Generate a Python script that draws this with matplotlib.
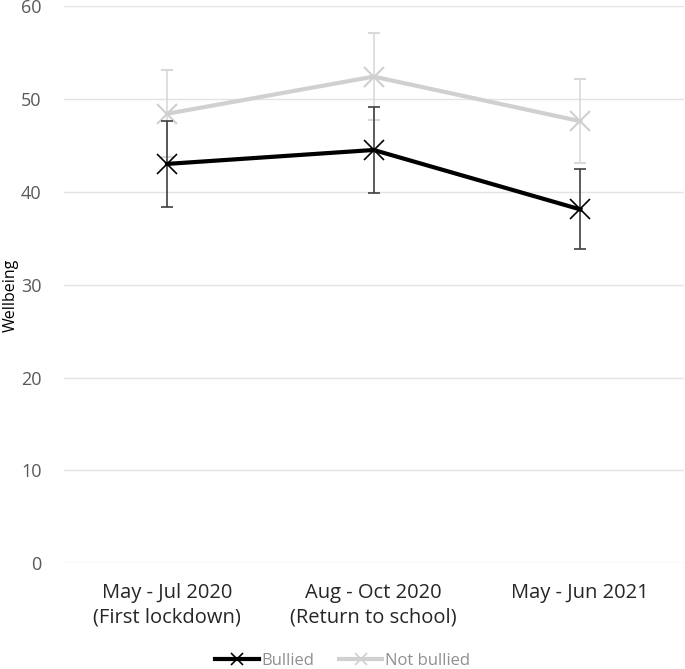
import matplotlib.pyplot as plt
from matplotlib.lines import Line2D

# data
periods = ["May - Jul 2020\n(First lockdown)", "Aug - Oct 2020\n(Return to school)", "May - Jun 2021"]
bullied = [43.0, 44.5, 38.1]
bullied_err = [4.6, 4.6, 4.3]
not_bullied = [48.4, 52.4, 47.6]
not_bullied_err = [4.7, 4.7, 4.5]

plt.rcParams['font.family'] = ['Open Sans', 'DejaVu Sans']

fig = plt.figure(figsize=(6.85, 6.69), dpi=100)
ax = fig.add_axes([0.093, 0.158, 0.905, 0.833])

x = range(len(periods))
ax.errorbar(x, not_bullied, yerr=not_bullied_err, color='#d0d0d0', lw=3, marker='x',
            markersize=15, markeredgewidth=1.5, ecolor='#d9d9d9', elinewidth=1.2,
            capsize=4, capthick=1.2, zorder=3)
ax.errorbar(x, bullied, yerr=bullied_err, color='black', lw=3, marker='x',
            markersize=15, markeredgewidth=1.2, ecolor='#404040', elinewidth=1.2,
            capsize=4, capthick=1.2, zorder=4)

ax.set_xlim(-0.5, 2.5)
ax.set_ylim(0, 60)
ax.set_yticks(range(0, 61, 10))
ax.set_xticks(list(x))
ax.set_xticklabels(periods, fontsize=14.5, color='#262626', linespacing=1.3)
ax.tick_params(axis='y', labelsize=13, colors='#595959', length=0, pad=16)
ax.tick_params(axis='x', length=0, pad=14)
ax.grid(axis='y', color='#e3e3e3', lw=1)
ax.set_axisbelow(True)
for s in ax.spines.values():
    s.set_visible(False)
ax.set_ylabel('Wellbeing', fontsize=11.5, color='black')
ax.yaxis.set_label_coords(-0.072, 0.48)

handles = [Line2D([], [], color='black', lw=3, marker='x', markersize=9, markeredgewidth=1.2),
           Line2D([], [], color='#d0d0d0', lw=3, marker='x', markersize=9, markeredgewidth=1.2)]
leg = fig.legend(handles, ['Bullied', 'Not bullied'], loc='lower center',
                 bbox_to_anchor=(0.5, -0.022), ncol=2, frameon=False, fontsize=12,
                 handlelength=2.6, columnspacing=1.5, handletextpad=0.15)
for t in leg.get_texts():
    t.set_color('#909090')

fig.savefig('out.png', dpi=100)
